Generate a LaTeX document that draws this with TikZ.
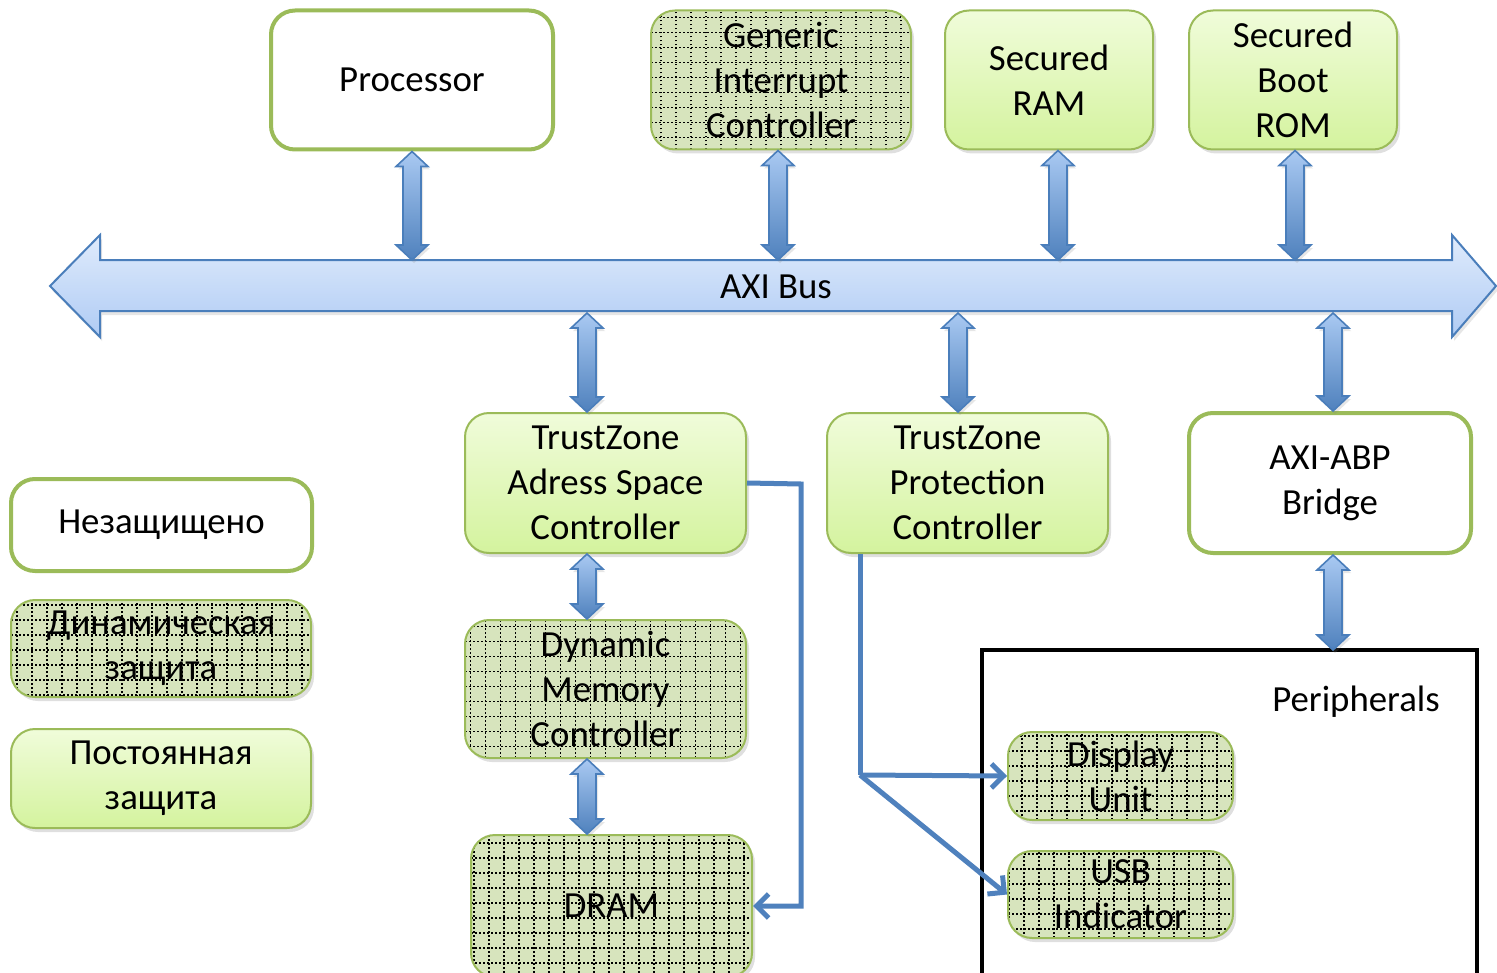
\documentclass[tikz,border=0pt]{standalone}
\usepackage{fontspec}
\setmainfont{Carlito}
\usetikzlibrary{positioning}
\usetikzlibrary{calc}
\usetikzlibrary{shadows}
\usetikzlibrary{arrows.meta}

\definecolor{bordgreen}{HTML}{9BBB59}
\definecolor{dyngreen}{HTML}{D7E4BD}
\definecolor{permtop}{HTML}{F0FCDA}
\definecolor{permbot}{HTML}{D4F39E}
\definecolor{linkblue}{HTML}{4F81BD}
\definecolor{arrowedge}{HTML}{4A7EBB}
\definecolor{arrowtop}{HTML}{A9C9F2}
\definecolor{bustop}{HTML}{DFEBFC}
\definecolor{busbot}{HTML}{AFCBF4}

% vertical double block arrow: x position, upper end, lower end
\newcommand{\blockarrow}[3]{%
  \path[blockarr] let \p0=(#1,0), \p1=(#2), \p2=(#3) in
    (\x0,\y1) -- (\x0+8pt,\y1-7.5pt) -- (\x0+4.5pt,\y1-7.5pt) -- (\x0+4.5pt,\y2+7.5pt)
    -- (\x0+8pt,\y2+7.5pt) -- (\x0,\y2) -- (\x0-8pt,\y2+7.5pt) -- (\x0-4.5pt,\y2+7.5pt)
    -- (\x0-4.5pt,\y1-7.5pt) -- (\x0-8pt,\y1-7.5pt) -- cycle;}

\begin{document}
\begin{tikzpicture}[x=0.5pt, y=-0.5pt, font=\fontsize{18.4}{22.5}\selectfont,
    box/.style={rounded corners=12pt, align=center, inner sep=0pt, text=black},
    plain/.style={box, draw=bordgreen, line width=2pt, fill=white},
    dotgrid/.style={path picture={
      \draw[black, line width=0.9pt, dash pattern=on 0.9pt off 1.1pt, step=7.5pt]
        (path picture bounding box.south west) grid (path picture bounding box.north east);}},
    dynamic/.style={box, draw=bordgreen, line width=1pt, fill=dyngreen, dotgrid,
      drop shadow={opacity=0.25, shadow xshift=1.5pt, shadow yshift=-2pt}},
    permanent/.style={box, draw=bordgreen, line width=1pt, top color=permtop, bottom color=permbot,
      drop shadow={opacity=0.25, shadow xshift=1.5pt, shadow yshift=-2pt}},
    blockarr/.style={draw=arrowedge, line width=0.8pt, top color=arrowtop, bottom color=linkblue,
      drop shadow={opacity=0.2, shadow xshift=1pt, shadow yshift=-1.5pt}},
    link/.style={draw=linkblue, line width=2.5pt, -{Straight Barb[length=6pt, width=12pt]}}]
  \useasboundingbox (0,0) rectangle (1497,973);

  % bus
  \path[draw=arrowedge, line width=1pt, top color=bustop, bottom color=busbot,
    drop shadow={opacity=0.2, shadow xshift=1pt, shadow yshift=-2pt}]
    (50,286) -- (100,235) -- (100,260) -- (1452,260) -- (1452,235) -- (1496,286)
    -- (1452,337) -- (1452,311) -- (100,311) -- (100,337) -- cycle;
  \node (bus) at (776,287) {AXI Bus};
  \coordinate (bt) at (0,260);
  \coordinate (bb) at (0,313);

  % top row
  \node[plain, minimum width=141pt, minimum height=69.5pt] (proc) at (412,80) {Processor};
  \node[dynamic, minimum width=130pt, minimum height=69.5pt] (gic) at (781,80) {Generic\\Interrupt\\Controller};
  \node[permanent, minimum width=104pt, minimum height=69.5pt] (sram) at (1049,80) {Secured\\RAM};
  \node[permanent, minimum width=104pt, minimum height=69.5pt] (srom) at (1293,80) {Secured\\Boot\\ROM};

  % middle row
  \node[permanent, minimum width=140.5pt, minimum height=70pt] (tzasc) at (605.5,483) {TrustZone\\Adress Space\\Controller};
  \node[permanent, minimum width=140.5pt, minimum height=70pt] (tzpc) at (967.5,483) {TrustZone\\Protection\\Controller};
  \node[plain, minimum width=141pt, minimum height=70pt] (bridge) at (1330,483) {AXI-ABP\\Bridge};

  % legend
  \node[plain, minimum width=150.5pt, minimum height=46pt] (unsafe) at (161.5,525) {Незащищено};
  \node[dynamic, minimum width=150pt, minimum height=48.5pt] (dynprot) at (161,648.5) {Динамическая\\защита};
  \node[permanent, minimum width=150pt, minimum height=49.5pt] (permprot) at (161,778.5) {Постоянная\\защита};

  % memory
  \node[dynamic, minimum width=140.5pt, minimum height=69pt] (dmc) at (605.5,689) {Dynamic\\Memory\\Controller};
  \node[dynamic, minimum width=140.5pt, minimum height=71pt] (dram) at (611.5,906) {DRAM};

  % peripherals
  \draw[line width=2pt] (982,650) rectangle (1477,995);
  \coordinate (pt) at (0,650);
  \node (perlabel) at (1356,702) {Peripherals};
  \node[dynamic, minimum width=112.5pt, minimum height=44pt] (disp) at (1120.5,776) {Display\\Unit};
  \node[dynamic, minimum width=112.5pt, minimum height=43.5pt] (usb) at (1120.5,894.5) {USB\\Indicator};

  % block arrows
  \foreach \pos/\i/\j in {412/proc.south/bt, 778/gic.south/bt, 1058/sram.south/bt, 1295/srom.south/bt,
      587/bb/tzasc.north, 958/bb/tzpc.north, 1333/bb/bridge.north,
      587/tzasc.south/dmc.north, 587/dmc.south/dram.north, 1333/bridge.south/pt}
    \blockarrow{\pos}{\i}{\j};

  % control lines
  \coordinate (turn) at (801,484);
  \coordinate (split) at (860,775);
  \draw[link] (tzasc.east) -- (turn) |- (dram.east);
  \draw[link, -] (tzpc.south -| split) -- (split);
  \draw[link] (split) -- (disp.west);
  \draw[link] (split) -- (usb.west);
\end{tikzpicture}
\end{document}
